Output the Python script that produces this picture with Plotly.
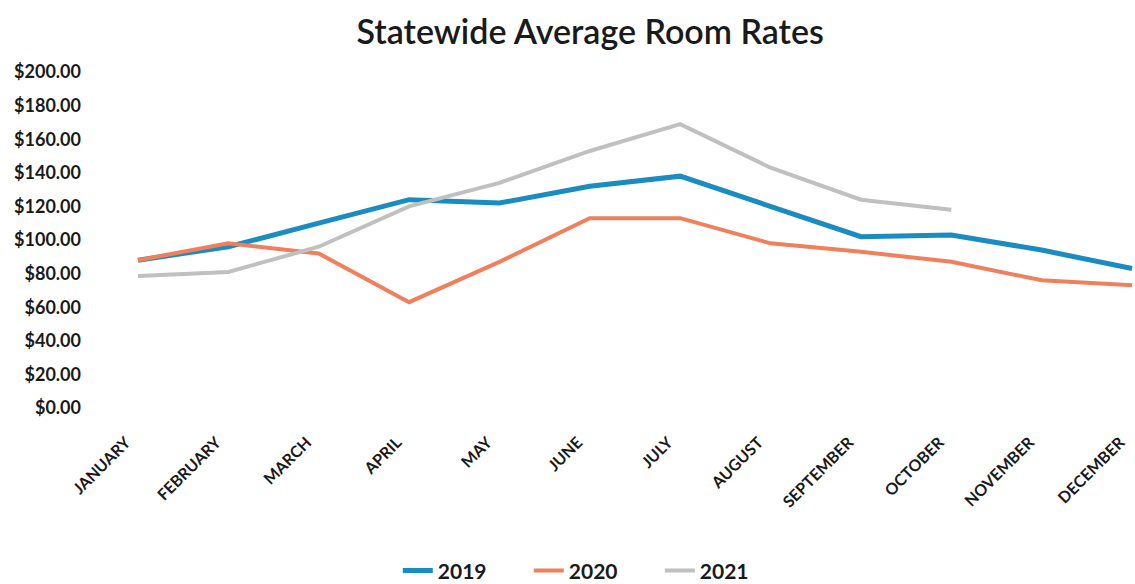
import plotly.graph_objects as go

months = ["JANUARY", "FEBRUARY", "MARCH", "APRIL", "MAY", "JUNE", "JULY",
          "AUGUST", "SEPTEMBER", "OCTOBER", "NOVEMBER", "DECEMBER"]
rates_2019 = [88, 96, 110, 124, 122, 132, 138, 120, 102, 103, 94, 83]
rates_2020 = [88, 98, 92, 63, 87, 113, 113, 98, 93, 87, 76, 73]
rates_2021 = [78.5, 81, 96, 120, 134, 153, 169, 143, 124, 118]

y_ticks = [0, 20, 40, 60, 80, 100, 120, 140, 160, 180, 200]
y_tick_labels = [f"${v:.2f}" for v in y_ticks]

FONT = "Lato"

fig = go.Figure()
fig.add_trace(go.Scatter(x=months, y=rates_2019, name="2019", mode="lines",
                         line=dict(color="#1a8cc2", width=5)))
fig.add_trace(go.Scatter(x=months, y=rates_2020, name="2020", mode="lines",
                         line=dict(color="#f07f5c", width=4)))
fig.add_trace(go.Scatter(x=months[:len(rates_2021)], y=rates_2021, name="2021",
                         mode="lines", line=dict(color="#c0c0c0", width=4)))

fig.update_layout(
    width=1135, height=584,
    margin=dict(l=130, r=0, t=72, b=176, autoexpand=False),
    paper_bgcolor="white", plot_bgcolor="white",
    title=dict(text="Statewide Average Room Rates", x=0.52, xanchor="center",
               y=0.945, yanchor="middle",
               font=dict(family=FONT, size=34, color="#1a1a1a", weight=600)),
    font=dict(family=FONT, color="#1a1a1a"),
    showlegend=True,
    legend=dict(orientation="h", x=0.462, xanchor="center", y=-0.485,
                yanchor="middle", font=dict(size=21, weight="bold"),
                entrywidth=86, entrywidthmode="pixels", tracegroupgap=0),
)
fig.update_xaxes(
    type="category", categoryorder="array", categoryarray=months,
    range=[-0.0885, 11.033], showgrid=False, showline=False, zeroline=False,
    ticks="", tickangle=-45, tickfont=dict(size=16, weight="bold"),
    ticklabelstandoff=21, ticklabelshift=-12,
)
fig.update_yaxes(
    range=[0, 200], tickvals=y_ticks, ticktext=y_tick_labels,
    showgrid=False, showline=False, zeroline=False, ticks="",
    tickfont=dict(size=18, weight="bold"), ticklabelstandoff=48,
)

fig.write_html("out.html")
